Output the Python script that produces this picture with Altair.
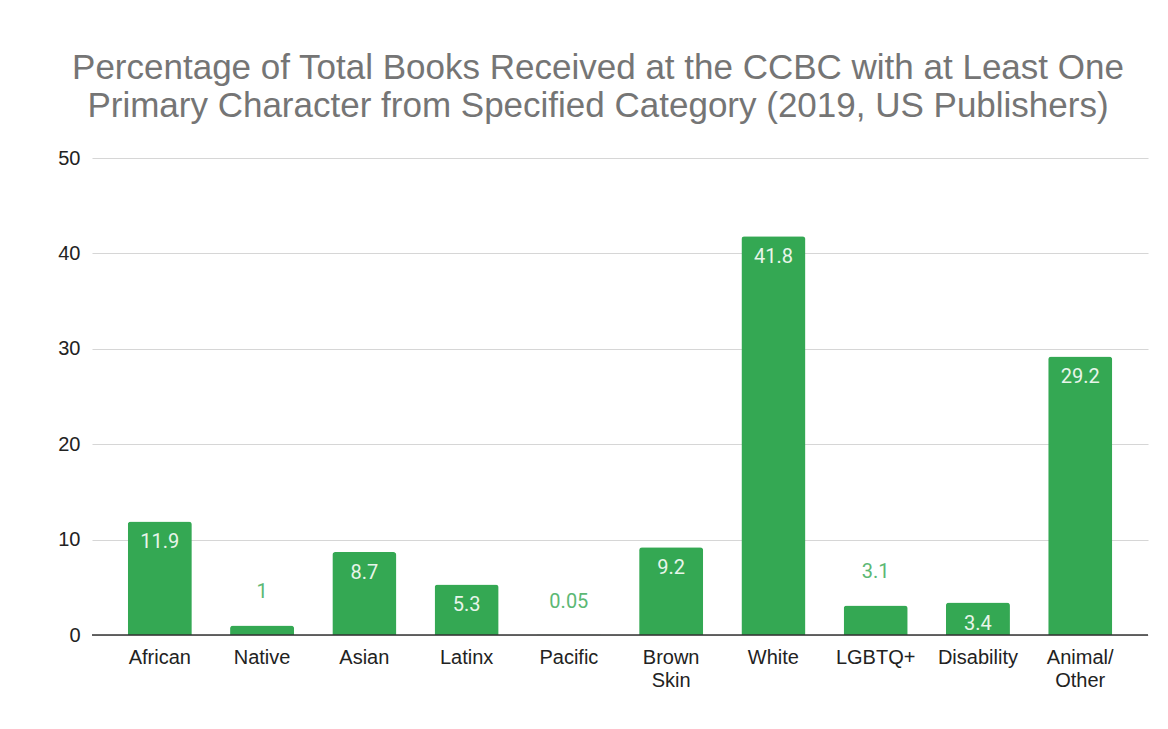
import altair as alt
import pandas as pd

categories = ["African", "Native", "Asian", "Latinx", "Pacific", "Brown Skin",
              "White", "LGBTQ+", "Disability", "Animal/ Other"]
values = [11.9, 1, 8.7, 5.3, 0.05, 9.2, 41.8, 3.1, 3.4, 29.2]
label_inside = [True, False, True, True, False, True, True, False, True, True]
label_text = ["11.9", "1", "8.7", "5.3", "0.05", "9.2", "41.8", "3.1", "3.4", "29.2"]

df = pd.DataFrame({"cat": categories, "val": values,
                   "inside": label_inside, "lbl": label_text})

GREEN = "#34a853"

x = alt.X("cat:N", sort=categories, title=None,
          scale=alt.Scale(paddingInner=0.374, paddingOuter=0.35),
          axis=alt.Axis(labelAngle=0, labelFont="Liberation Sans", labelFontSize=20,
                        labelColor="#222222", labelPadding=12, ticks=False,
                        domain=False, grid=False, labelLineHeight=23,
                        labelExpr="split(datum.label, ' ')"))
y = alt.Y("val:Q", title=None,
          scale=alt.Scale(domain=[0, 50], nice=False),
          axis=alt.Axis(values=[0, 10, 20, 30, 40, 50], labelFont="Liberation Sans",
                        labelFontSize=20, labelColor="#222222", labelPadding=12,
                        ticks=False, domain=False, gridColor="#d6d6d6",
                        gridWidth=1.2))

base = alt.Chart(df)

bars = base.mark_bar(color=GREEN, cornerRadiusTopLeft=3,
                     cornerRadiusTopRight=3).encode(x=x, y=y)

zero = alt.Chart(pd.DataFrame({"z": [0]})).mark_rule(
    color="#333333", strokeWidth=1.5).encode(y=alt.Y("z:Q"))

lab_in = base.transform_filter("datum.inside").mark_text(
    font="Roboto", fontSize=20, color="#e8f5ea", baseline="middle", dy=21
).encode(x=alt.X("cat:N", sort=categories), y=alt.Y("val:Q"), text="lbl:N")

lab_out = base.transform_filter("!datum.inside").mark_text(
    font="Roboto", fontSize=20, color="#5cb874", baseline="middle", dy=-33
).encode(x=alt.X("cat:N", sort=categories), y=alt.Y("val:Q"), text="lbl:N")

chart = alt.layer(bars, zero, lab_in, lab_out).properties(
    width=1056, height=477,
    autosize=alt.AutoSizeParams(type="none"),
    padding={"left": 84, "top": 150, "right": 12, "bottom": 70},
    background="white",
    title=alt.TitleParams(
        ["Percentage of Total Books Received at the CCBC with at Least One",
         "Primary Character from Specified Category (2019, US Publishers)"],
        font="Liberation Sans", fontSize=35, fontWeight="normal",
        color="#757575", anchor="middle", lineHeight=38, offset=24, dx=-22)
).configure_view(stroke=None)

chart.save("out.html", embed_options={"renderer": "svg", "actions": False})
